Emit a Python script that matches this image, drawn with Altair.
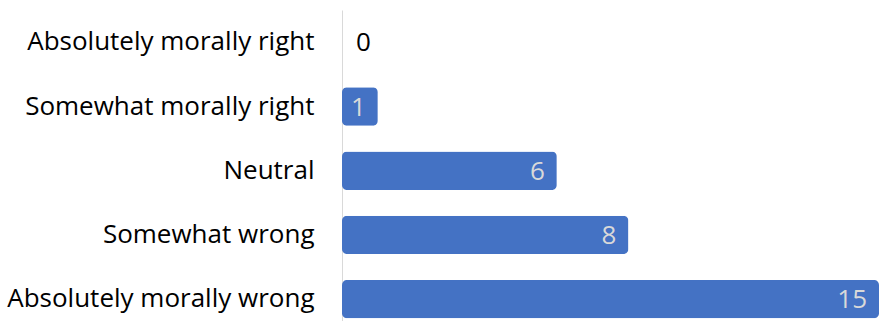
import altair as alt
import pandas as pd

# Survey responses: how morally acceptable respondents rated the practice
categories = [
    "Absolutely morally right",
    "Somewhat morally right",
    "Neutral",
    "Somewhat wrong",
    "Absolutely morally wrong",
]
counts = [0, 1, 6, 8, 15]

df = pd.DataFrame({"response": categories, "count": counts})

FONT = "Open Sans"
FONT_SIZE = 26
BAR_COLOR = "#4472C4"

y_enc = alt.Y(
    "response:N",
    sort=categories,
    title=None,
    scale=alt.Scale(paddingInner=0.402, paddingOuter=0.123, align=0.83),
    axis=alt.Axis(
        domain=True,
        domainColor="#d9d9d9",
        domainWidth=1,
        ticks=False,
        grid=False,
        labelFont=FONT,
        labelFontSize=FONT_SIZE,
        labelColor="#000000",
        labelPadding=28,
        labelLimit=400,
    ),
)
x_enc = alt.X(
    "count:Q",
    title=None,
    scale=alt.Scale(domain=[0, 15], nice=False, zero=True),
    axis=None,
)

bars = alt.Chart(df).mark_bar(color=BAR_COLOR, cornerRadius=5).encode(
    x=x_enc, y=y_enc
)

# Labels that sit inside the end of each bar
inside = (
    alt.Chart(df)
    .transform_filter("datum.count > 0")
    .mark_text(
        align="right", baseline="middle", dx=-12, dy=1,
        font=FONT, fontSize=FONT_SIZE, color="#d9d9d9",
    )
    .encode(x=x_enc, y=y_enc, text="count:Q")
)

# A zero-length bar gets its label just past the axis
outside = (
    alt.Chart(df)
    .transform_filter("datum.count == 0")
    .mark_text(
        align="left", baseline="middle", dx=14, dy=1,
        font=FONT, fontSize=FONT_SIZE, color="#000000",
    )
    .encode(x=x_enc, y=y_enc, text="count:Q")
)

chart = (
    alt.layer(bars, inside, outside)
    .properties(
        width=537,
        height=311,
        background="#ffffff",
        autosize=alt.AutoSizeParams(type="none"),
        padding={"left": 342, "top": 10, "right": 0, "bottom": 0},
    )
    .configure_view(strokeWidth=0, stroke="transparent")
)

chart.save("out.html", embed_options={"renderer": "svg", "actions": False})
